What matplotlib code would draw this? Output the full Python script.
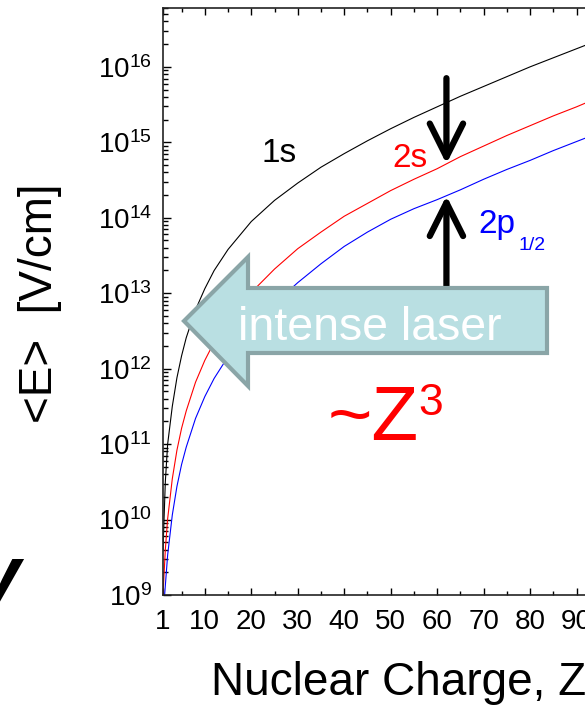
import numpy as np
import matplotlib
matplotlib.use("Agg")
from matplotlib import pyplot as plt
from matplotlib.patches import Polygon
from matplotlib.ticker import FixedLocator, LogLocator, FuncFormatter, NullFormatter

plt.rcParams["font.family"] = ["Liberation Sans", "DejaVu Sans"]
plt.rcParams["mathtext.fontset"] = "custom"
plt.rcParams["mathtext.rm"] = "Liberation Sans"

# values (log10 of <E> in V/cm)
z_1s = [1, 1.5, 2, 3, 4, 5, 6, 8, 10, 12, 15, 20, 25, 30, 35, 40, 45, 50, 55, 60,
        65, 70, 75, 80, 85, 90, 95, 100]
log_1s = [9.6, 10.5, 11.0, 11.5, 11.88, 12.17, 12.41, 12.78, 13.06, 13.3, 13.58, 13.95,
          14.23, 14.46, 14.67, 14.85, 15.02, 15.18, 15.33, 15.47, 15.61, 15.74, 15.87,
          16.0, 16.12, 16.24, 16.36, 16.48]

z_2s = [1, 1.5, 2, 3, 4, 5, 6, 8, 10, 12, 15, 20, 25, 30, 35, 40, 45, 50, 55, 60,
        65, 70, 75, 80, 85, 90, 95, 100]
log_2s = [9.0, 9.6, 10.01, 10.54, 10.92, 11.21, 11.44, 11.82, 12.11, 12.35, 12.64, 13.01,
          13.32, 13.59, 13.81, 14.02, 14.19, 14.36, 14.51, 14.65, 14.81, 14.95, 15.09,
          15.22, 15.35, 15.47, 15.6, 15.73]

z_2p = [1.35, 2, 3, 4, 5, 6, 8, 10, 12, 15, 20, 25, 30, 35, 40, 45, 50, 55, 60,
        65, 70, 75, 80, 85, 90, 95, 100]
log_2p = [9.0, 9.53, 10.06, 10.44, 10.73, 10.96, 11.34, 11.63, 11.87, 12.16, 12.53, 12.86,
          13.14, 13.39, 13.62, 13.81, 13.98, 14.12, 14.24, 14.37, 14.51, 14.64, 14.76,
          14.89, 15.01, 15.13, 15.25]

x_ticks = [1, 10, 20, 30, 40, 50, 60, 70, 80, 90, 100]
x_minor = [5, 15, 25, 35, 45, 55, 65, 75, 85, 95]
arrow_z = 62

W, H = 585, 705
fig = plt.figure(figsize=(W / 100, H / 100), dpi=100)


def px(x, y):
    return x / W, 1 - y / H


ax = fig.add_axes([163 / W, 1 - 595 / H, 460 / W, 587 / H])
ax.plot(z_1s, 10 ** np.array(log_1s), color="black", lw=0.8)
ax.plot(z_2s, 10 ** np.array(log_2s), color="red", lw=0.8)
ax.plot(z_2p, 10 ** np.array(log_2p), color="blue", lw=0.8)

ax.set_yscale("log")
ax.set_xlim(1, 100)
ax.set_ylim(1e9, 10 ** 16.78)
ax.xaxis.set_major_locator(FixedLocator(x_ticks))
ax.xaxis.set_minor_locator(FixedLocator(x_minor))
ax.yaxis.set_major_locator(LogLocator(base=10, numticks=20))
ax.yaxis.set_minor_locator(LogLocator(base=10, subs=np.arange(2, 10), numticks=20))
ax.yaxis.set_minor_formatter(NullFormatter())
ax.yaxis.set_major_formatter(FuncFormatter(lambda v, p: r"$\mathregular{10^{%d}}$" % round(np.log10(v))))
ax.tick_params(which="both", direction="in", top=True, right=True, width=1, labelsize=20)
ax.tick_params(axis="y", which="major", length=5.8, pad=8)
ax.tick_params(axis="y", which="minor", length=3.6)
ax.tick_params(axis="x", which="major", length=5, pad=10)
ax.tick_params(axis="x", which="minor", length=3)
for s in ax.spines.values():
    s.set_linewidth(1.2)
    s.set_color("#222222")

# black arrows pointing at the 2s and 2p1/2 curves
tip_2s = 10 ** np.interp(arrow_z, z_2s, log_2s)
tip_2p = 10 ** np.interp(arrow_z, z_2p, log_2p)
style = "->,head_length=1.2,head_width=0.6"
ax.annotate("", xy=(arrow_z, tip_2s), xytext=(arrow_z, 10 ** 15.85),
            arrowprops=dict(arrowstyle=style, lw=4.5, color="black", mutation_scale=20,
                            shrinkA=0, shrinkB=0), zorder=4)
ax.annotate("", xy=(arrow_z, tip_2p), xytext=(arrow_z, 10 ** 12.9),
            arrowprops=dict(arrowstyle=style, lw=4.5, color="black", mutation_scale=20,
                            shrinkA=0, shrinkB=0), zorder=4)

# block arrow "intense laser"
pts = [px(184, 321), px(248, 257), px(248, 288), px(547, 288),
       px(547, 353), px(248, 353), px(248, 386)]
fig.patches.append(Polygon(pts, closed=True, transform=fig.transFigure, facecolor="#b9dfe2",
                           edgecolor="#8aa5a7", lw=3, joinstyle="miter", zorder=5))
fig.text(*px(238, 340), "intense laser", color="white", fontsize=33.5, ha="left",
         va="baseline", zorder=6)

# curve labels
fig.text(*px(262, 162), "1s", color="black", fontsize=24, va="baseline")
fig.text(*px(392, 167), "2s", color="red", fontsize=24, va="baseline")
fig.text(*px(478, 233), "2p", color="blue", fontsize=24, va="baseline")
fig.text(*px(518, 250), "1/2", color="blue", fontsize=14, va="baseline")
fig.text(*px(328, 440), "~Z", color="red", fontsize=55, va="baseline")
fig.text(*px(418, 415), "3", color="red", fontsize=32, va="baseline")

fig.text(*px(40, 303), "<E>  [V/cm]", rotation=90, fontsize=33, ha="center", va="center")
fig.text(*px(211, 695), "Nuclear Charge, Z", fontsize=33, ha="left", va="baseline")
fig.text(*px(20, 602), "y", fontsize=58, fontweight="bold", fontstyle="italic",
         ha="right", va="baseline")

fig.savefig("out.png", dpi=100)
